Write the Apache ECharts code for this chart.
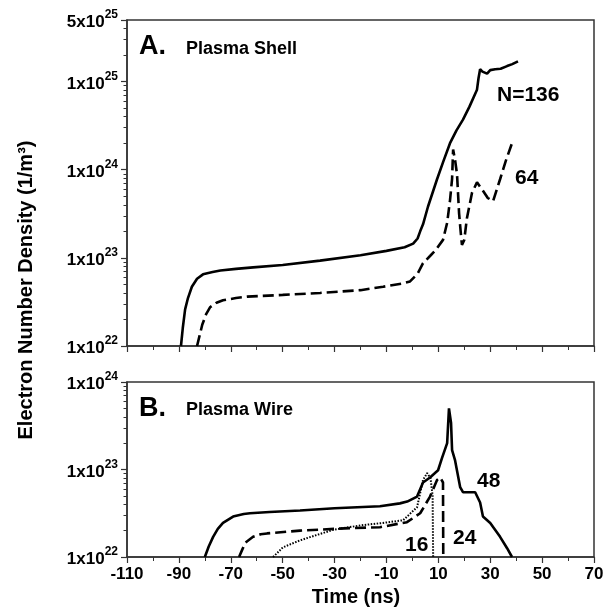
<!DOCTYPE html>
<html><head><meta charset="utf-8">
<script src="https://cdn.jsdelivr.net/npm/echarts@6/dist/echarts.min.js"></script>
<style>html,body{margin:0;padding:0;background:#fff}#c{width:607px;height:610px}</style>
</head><body><div id="c"></div>
<script>
// ---- Data (time in ns, electron number density in 1/m^3) ----
const shell136T = [-89.2,-88.5,-87.6,-86.5,-85,-83,-80.7,-77,-74,-68,-61.4,-50,-35.6,-20,-10,-3,0.3,2,3,4.1,6,9.5,12,14.5,17,19.5,22,24.9,25.5,26.1,27,28.8,30,31.9,34,36.5,38.5,40.7];
const shell136V = [1e22,1.6e22,2.6e22,3.5e22,4.7e22,5.8e22,6.5e22,6.9e22,7.2e22,7.5e22,7.8e22,8.3e22,9.3e22,1.07e23,1.2e23,1.32e23,1.45e23,1.66e23,2.0e23,2.4e23,3.8e23,7.8e23,1.26e24,2.0e24,2.8e24,3.7e24,5.2e24,8.1e24,1.1e25,1.38e25,1.3e25,1.23e25,1.35e25,1.38e25,1.4e25,1.5e25,1.58e25,1.7e25];

const shell64T = [-83,-82,-81,-79.5,-78,-75.5,-73,-68,-63.7,-50,-35.6,-20,-11.3,-4,-0.9,2,4.1,6.8,9,11.8,13.4,14.5,15.3,15.7,16.5,17.2,18,18.6,19.1,20,21,23,24.9,27,29,31.1,33.8,36,38.4];
const shell64V = [1e22,1.32e22,1.74e22,2.3e22,2.75e22,3.1e22,3.3e22,3.5e22,3.63e22,3.8e22,4.0e22,4.3e22,4.7e22,5.1e22,5.4e22,6.6e22,8.7e22,1.05e23,1.23e23,1.6e23,2.5e23,4.5e23,7.9e23,1.7e24,1.26e24,8.9e23,3.2e23,2.0e23,1.4e23,1.6e23,2.8e23,5.5e23,7.2e23,5.9e23,4.8e23,4.4e23,7.8e23,1.26e24,2.0e24];

const wire48T = [-80,-78.5,-76.8,-75,-73,-69.1,-65,-62.6,-55,-43.3,-30,-12.5,-4.8,-2,1.8,4.1,6.8,9.9,11.4,13.4,14.1,14.9,15.3,16.4,18.4,19.5,24.2,26.1,27.2,30,33.8,36.5,38.4];
const wire48V = [1e22,1.32e22,1.7e22,2.1e22,2.45e22,2.9e22,3.1e22,3.16e22,3.27e22,3.4e22,3.6e22,3.8e22,4.1e22,4.3e22,4.9e22,7.1e22,8.1e22,9.8e22,1.35e23,2.0e23,5.0e23,3.4e23,1.66e23,1.29e23,6.3e22,5.5e22,5.5e22,4.2e22,2.9e22,2.45e22,1.7e22,1.26e22,1e22];

const wire24T = [-66.8,-65.5,-64.5,-61.4,-58.5,-56,-43.3,-24,-12.5,-2.1,3,6.8,9.5,10.7,11.8,11.9];
const wire24V = [1e22,1.23e22,1.45e22,1.7e22,1.82e22,1.86e22,2.0e22,2.14e22,2.19e22,2.5e22,3.16e22,4.9e22,7.6e22,8.1e22,7.1e22,1e22];

const wire16T = [-53.7,-52,-49.9,-43.3,-37,-30.6,-20,-11.3,-3.6,1.8,4.1,5.7,7,7.8,8];
const wire16V = [1e22,1.12e22,1.29e22,1.55e22,1.78e22,2.04e22,2.3e22,2.45e22,2.63e22,3.7e22,7.6e22,9.1e22,7.9e22,5e22,1e22];

const topRange = [1e22, 5e25];
const botRange = [1e22, 1e24];
const xMin = -110, xMax = 70, xStep = 20;

// ---- helpers ----
function pairs(t, v){ return t.map((x,i)=>[x, v[i]]); }
// minor tick positions (2..9 x 10^d) expressed as decades for a helper value axis
function minorTickExps(lo, hiVal){
  const out = [];
  for (let d = Math.round(Math.log10(lo)); ; d++) {
    let done = false;
    for (let k = 2; k <= 9; k++) {
      const v = k * Math.pow(10, d);
      if (v >= hiVal * 0.999) { done = true; break; }
      out.push(Math.log10(v));
    }
    if (done) break;
  }
  return out;
}
const FONT = 'Liberation Sans, Arial, Helvetica, sans-serif';
function sciLabel(v){
  const e = Math.floor(Math.log10(v) + 1e-6);
  const m = Math.round(v / Math.pow(10, e));
  return '{b|' + m + 'x10}{s|' + e + '}';
}
const labelRich = {
  b: {fontSize: 17, fontWeight: 'bold', color: '#000', fontFamily: FONT, lineHeight: 22, verticalAlign: 'bottom'},
  s: {fontSize: 12, fontWeight: 'bold', color: '#000', fontFamily: FONT, lineHeight: 22, verticalAlign: 'top'}
};
const axisColor = '#333';

function yMajor(gi, range){
  return {type: 'log', logBase: 10, gridIndex: gi, min: range[0], max: range[1], position: 'left',
    axisLine: {show: true, onZero: false, lineStyle: {color: axisColor, width: 1.5}},
    axisTick: {show: true, length: 6, lineStyle: {color: axisColor, width: 1.2}},
    axisLabel: {show: true, showMinLabel: true, showMaxLabel: true, margin: 9, formatter: sciLabel, rich: labelRich},
    splitLine: {show: false}};
}
function yMinor(gi, range){
  return {type: 'value', gridIndex: gi, min: Math.log10(range[0]), max: Math.log10(range[1]), position: 'left', offset: 0,
    axisLine: {show: false, onZero: false},
    axisTick: {show: true, length: 3.5, customValues: minorTickExps(range[0], range[1]), lineStyle: {color: axisColor, width: 1}},
    axisLabel: {show: false}, splitLine: {show: false}};
}
function xAx(gi, showLabels){
  return {type: 'value', gridIndex: gi, min: xMin, max: xMax, interval: xStep,
    axisLine: {show: true, onZero: false, lineStyle: {color: axisColor, width: 1.5}},
    axisTick: {show: true, length: 6, lineStyle: {color: axisColor, width: 1.2}},
    minorTick: {show: true, splitNumber: 2, length: 4, lineStyle: {color: axisColor, width: 1}},
    axisLabel: {show: showLabels, showMinLabel: true, showMaxLabel: true, color: '#000', fontSize: 17, fontWeight: 'bold', fontFamily: FONT, margin: 9},
    splitLine: {show: false}, minorSplitLine: {show: false}};
}
function line(name, t, v, xi, yi, type, width){
  return {name: name, type: 'line', xAxisIndex: xi, yAxisIndex: yi, data: pairs(t, v),
    showSymbol: false, symbol: 'none', animation: false, z: 3,
    lineStyle: {color: '#000', width: width, type: type, cap: 'butt'}};
}
const txt = (x, y, s, size, align) => ({type: 'text', x: x, y: y, z: 10,
  style: {text: s, font: 'bold ' + size + 'px ' + FONT, fill: '#000', textAlign: align || 'left', textVerticalAlign: 'middle'}});

const chart = echarts.init(document.getElementById('c'), null, {renderer: 'canvas'});
chart.setOption({
  backgroundColor: '#fff',
  animation: false,
  grid: [
    {left: 127, top: 20, width: 467, height: 326, show: true, borderColor: axisColor, borderWidth: 1.5, backgroundColor: 'transparent'},
    {left: 127, top: 382, width: 467, height: 175, show: true, borderColor: axisColor, borderWidth: 1.5, backgroundColor: 'transparent'}
  ],
  xAxis: [xAx(0, false), xAx(1, true)],
  yAxis: [
    yMajor(0, topRange),
    yMinor(0, topRange),
    yMajor(1, botRange),
    yMinor(1, botRange)
  ],
  series: [
    line('N=136', shell136T, shell136V, 0, 0, 'solid', 2.6),
    line('64', shell64T, shell64V, 0, 0, [11, 5], 2.6),
    line('48', wire48T, wire48V, 1, 2, 'solid', 2.6),
    line('24', wire24T, wire24V, 1, 2, [11, 5], 2.6),
    line('16', wire16T, wire16V, 1, 2, [1.5, 1.5], 2)
  ],
  graphic: [
    {type: 'text', x: 26, y: 290, rotation: Math.PI / 2, z: 10,
      style: {text: 'Electron Number Density (1/m³)', font: 'bold 20px ' + FONT, fill: '#000', textAlign: 'center', textVerticalAlign: 'middle'}},
    txt(356, 597, 'Time (ns)', 20, 'center'),
    txt(139, 47, 'A.', 27),
    txt(186, 49, 'Plasma Shell', 18),
    txt(139, 409, 'B.', 27),
    txt(186, 410, 'Plasma Wire', 18),
    txt(497, 95, 'N=136', 21),
    txt(515, 178, '64', 21),
    txt(477, 481, '48', 21),
    txt(453, 538, '24', 21),
    txt(405, 545, '16', 21)
  ]
});
</script></body></html>
